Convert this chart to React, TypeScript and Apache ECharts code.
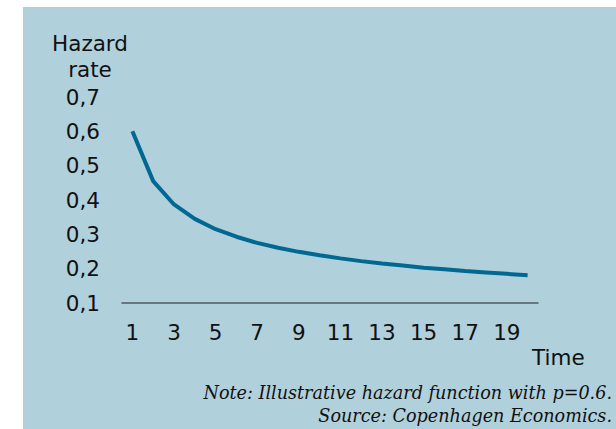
import React, { useEffect, useRef } from "react";
import * as echarts from "echarts";

const timeLabels = ["1","2","3","4","5","6","7","8","9","10","11","12","13","14","15","16","17","18","19","20"];
const hazardValues = [0.600, 0.455, 0.387, 0.345, 0.315, 0.293, 0.275, 0.261, 0.249, 0.239, 0.230, 0.222, 0.215, 0.209, 0.203, 0.198, 0.193, 0.189, 0.185, 0.181];
const yAxisTitle = "Hazard\nrate";
const xAxisTitle = "Time";
const noteText = "Note: Illustrative hazard function with p=0.6.";
const sourceText = "Source: Copenhagen Economics.";

export default function App() {
  const ref = useRef<HTMLDivElement>(null);
  useEffect(() => {
    if (!ref.current) return;
    const chart = echarts.init(ref.current, undefined, { renderer: "svg" });
    const font = "DejaVu Sans";
    chart.setOption({
      animation: false,
      backgroundColor: "#ffffff",
      graphic: [
        { type: "rect", z: -10, shape: { x: 23, y: 7, width: 600, height: 430 }, style: { fill: "#b0d0dc" } },
        { type: "text", x: 90, y: 30, z: 5, style: { text: yAxisTitle, font: `21.5px '${font}'`, fill: "#111", align: "center", verticalAlign: "top", lineHeight: 26 } },
        { type: "text", x: 532, y: 346, style: { text: xAxisTitle, font: `21.5px '${font}'`, fill: "#111", verticalAlign: "top" } },
        { type: "text", x: 612, y: 393, style: { text: noteText, font: `italic 17.6px 'DejaVu Serif'`, fill: "#111", align: "right", verticalAlign: "middle" } },
        { type: "text", x: 612, y: 416, style: { text: sourceText, font: `italic 17.6px 'DejaVu Serif'`, fill: "#111", align: "right", verticalAlign: "middle" } },
      ],
      grid: { left: 122, right: 78, top: 97, bottom: 126 },
      xAxis: {
        type: "category",
        data: timeLabels,
        boundaryGap: true,
        axisLine: { show: true, lineStyle: { color: "#505a60", width: 1.5 } },
        axisTick: { show: false },
        axisLabel: { interval: 1, color: "#111", fontFamily: font, fontSize: 21.5, margin: 18 },
      },
      yAxis: {
        type: "value",
        min: 0.1,
        max: 0.7,
        interval: 0.1,
        axisLine: { show: false },
        axisTick: { show: false },
        splitLine: { show: false },
        axisLabel: {
          color: "#111",
          fontFamily: font,
          fontSize: 21.5,
          margin: 22,
          formatter: (v: number) => v.toFixed(1).replace(".", ","),
        },
      },
      series: [
        {
          type: "line",
          data: hazardValues,
          showSymbol: false,
          lineStyle: { color: "#006891", width: 4 },
        },
      ],
    });
    return () => chart.dispose();
  }, []);
  return <div ref={ref} style={{ position: "absolute", left: 0, top: 0, width: 616, height: 429 }} />;
}
